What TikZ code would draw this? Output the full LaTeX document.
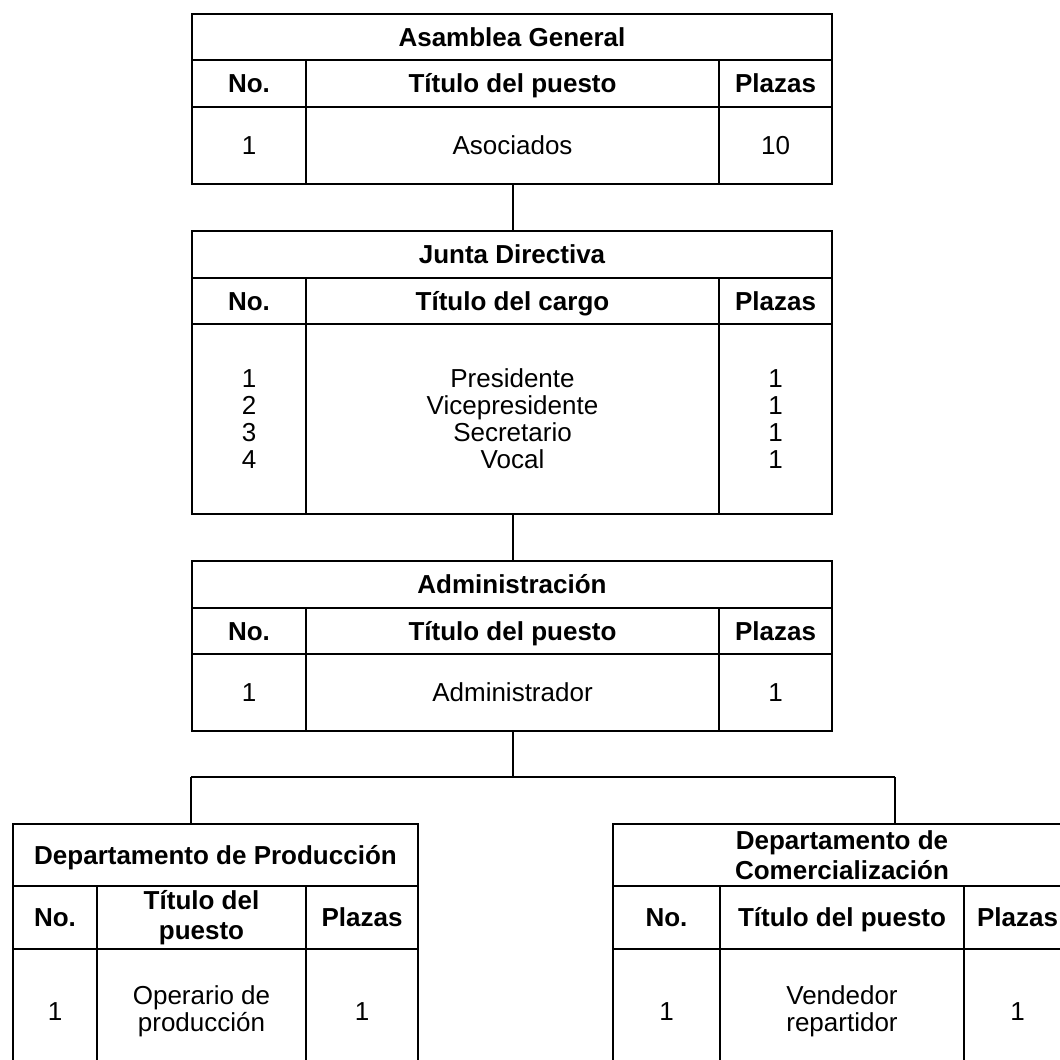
\documentclass[tikz,border=0pt]{standalone}
\usepackage{fontspec}
\setmainfont{Liberation Sans}
\usepackage{tikz}
\usetikzlibrary{positioning, calc}

\tikzset{
  celda/.style={draw, line width=2pt, inner sep=0pt, anchor=north west, align=center,
    font=\fontsize{26}{27}\selectfont},
  cabecera/.style={celda, font=\fontsize{26}{30}\selectfont\bfseries},
  linea/.style={text height=18.6pt, text depth=0pt},
  rama/.style={line width=2pt}
}

\begin{document}
\begin{tikzpicture}[x=1pt, y=-1pt]
    \clip (0,0) rectangle (1060,1060);

    % Asamblea General
    \node[cabecera, linea, minimum width=640pt, minimum height=46pt] (ag) at (191,13) {Asamblea General};
    \node[cabecera, linea, minimum width=114pt, minimum height=47pt] (ag-no) at (191,59) {No.};
    \node[cabecera, linea, minimum width=413pt, minimum height=47pt] (ag-ti) at (305,59) {Título del puesto};
    \node[cabecera, linea, minimum width=113pt, minimum height=47pt] (ag-pl) at (718,59) {Plazas};
    \node[celda, linea, minimum width=114pt, minimum height=77pt] (ag-n1) at (191,106) {1};
    \node[celda, linea, minimum width=413pt, minimum height=77pt] (ag-p1) at (305,106) {Asociados};
    \node[celda, linea, minimum width=113pt, minimum height=77pt] (ag-c1) at (718,106) {10};

    % Junta Directiva
    \node[cabecera, linea, minimum width=640pt, minimum height=47pt] (jd) at (191,230) {Junta Directiva};
    \node[cabecera, linea, minimum width=114pt, minimum height=46pt] (jd-no) at (191,277) {No.};
    \node[cabecera, linea, minimum width=413pt, minimum height=46pt] (jd-ti) at (305,277) {Título del cargo};
    \node[cabecera, linea, minimum width=113pt, minimum height=46pt] (jd-pl) at (718,277) {Plazas};
    \node[celda, minimum width=114pt, minimum height=190pt] (jd-n1) at (191,323) {1\\2\\3\\4};
    \node[celda, minimum width=413pt, minimum height=190pt] (jd-p1) at (305,323)
        {Presidente\\Vicepresidente\\Secretario\\Vocal};
    \node[celda, minimum width=113pt, minimum height=190pt] (jd-c1) at (718,323) {1\\1\\1\\1};

    % Administración
    \node[cabecera, linea, minimum width=640pt, minimum height=47pt] (ad) at (191,560) {Administración};
    \node[cabecera, linea, minimum width=114pt, minimum height=46pt] (ad-no) at (191,607) {No.};
    \node[cabecera, linea, minimum width=413pt, minimum height=46pt] (ad-ti) at (305,607) {Título del puesto};
    \node[cabecera, linea, minimum width=113pt, minimum height=46pt] (ad-pl) at (718,607) {Plazas};
    \node[celda, linea, minimum width=114pt, minimum height=77pt] (ad-n1) at (191,653) {1};
    \node[celda, linea, minimum width=413pt, minimum height=77pt] (ad-p1) at (305,653) {Administrador};
    \node[celda, linea, minimum width=113pt, minimum height=77pt] (ad-c1) at (718,653) {1};

    % Departamento de Producción
    \node[cabecera, linea, minimum width=405pt, minimum height=62pt] (dp) at (12,823) {Departamento de Producción};
    \node[cabecera, linea, minimum width=84pt, minimum height=63pt] (dp-no) at (12,885) {No.};
    \node[cabecera, minimum width=209pt, minimum height=63pt] (dp-ti) at (96,885) {Título del\\puesto};
    \node[cabecera, linea, minimum width=112pt, minimum height=63pt] (dp-pl) at (305,885) {Plazas};
    \node[celda, linea, minimum width=84pt, minimum height=124pt] (dp-n1) at (12,948) {1};
    \node[celda, minimum width=209pt, minimum height=124pt] (dp-p1) at (96,948) {Operario de\\producción};
    \node[celda, linea, minimum width=112pt, minimum height=124pt] (dp-c1) at (305,948) {1};

    % Departamento de Comercialización
    \node[cabecera, minimum width=458pt, minimum height=62pt] (dc) at (612,823) {Departamento de\\Comercialización};
    \node[cabecera, linea, minimum width=107pt, minimum height=63pt] (dc-no) at (612,885) {No.};
    \node[cabecera, linea, minimum width=244pt, minimum height=63pt] (dc-ti) at (719,885) {Título del puesto};
    \node[cabecera, linea, minimum width=107pt, minimum height=63pt] (dc-pl) at (963,885) {Plazas};
    \node[celda, linea, minimum width=107pt, minimum height=124pt] (dc-n1) at (612,948) {1};
    \node[celda, minimum width=244pt, minimum height=124pt] (dc-p1) at (719,948) {Vendedor\\repartidor};
    \node[celda, linea, minimum width=107pt, minimum height=124pt] (dc-c1) at (963,948) {1};

    % líneas
    \coordinate (ri) at (191,777);
    \coordinate (rd) at (895,777);
    \draw[rama] (ag-p1.south) -- (ag-p1.south |- jd.north);
    \draw[rama] (jd-p1.south) -- (jd-p1.south |- ad.north);
    \draw[rama] (ad-p1.south) -- (ad-p1.south |- ri);
    \draw[rama] (ri) -- (rd);
    \draw[rama] (ri) -- (ri |- dp.north);
    \draw[rama] (rd) -- (rd |- dc.north);
\end{tikzpicture}
\end{document}
